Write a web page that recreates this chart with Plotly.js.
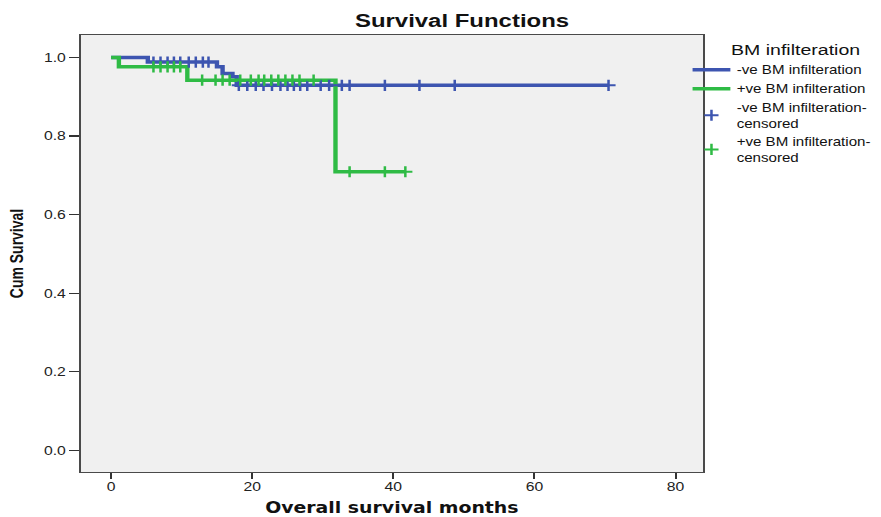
<!DOCTYPE html>
<html>
<head>
<meta charset="utf-8">
<script src="https://cdn.plot.ly/plotly-3.0.1.min.js"></script>
<style>
html,body{margin:0;padding:0;background:#fff;overflow:hidden;width:881px;height:517px;}
#chart{width:699px;height:517px;transform:scaleX(1.26);transform-origin:0 0;}
</style>
</head>
<body>
<div id="chart"></div>
<script>
// Kaplan-Meier step curves (months, cumulative survival)
const negTimes = [0, 5.2, 15.0, 15.8, 17.2, 17.8, 70.5];
const negSurv  = [1.0, 0.988, 0.976, 0.959, 0.951, 0.929, 0.929];
const posTimes = [0, 1.1, 10.8, 31.8, 41.7];
const posSurv  = [1.0, 0.976, 0.942, 0.709, 0.709];

// censored observations
const negCensTimes = [6.0, 7.0, 8.0, 8.9, 9.8, 11.0, 12.0, 13.0, 13.8,
  18.1, 19.3, 20.5, 21.6, 22.8, 24.0, 25.0, 25.9, 26.8, 27.8, 29.7, 30.9, 32.7, 33.8, 38.8, 43.7, 48.7, 70.5];
const negCensSurv  = [0.988, 0.988, 0.988, 0.988, 0.988, 0.988, 0.988, 0.988, 0.988,
  0.929, 0.929, 0.929, 0.929, 0.929, 0.929, 0.929, 0.929, 0.929, 0.929, 0.929, 0.929, 0.929, 0.929, 0.929, 0.929, 0.929, 0.929];
const posCensTimes = [6.0, 7.0, 8.0, 8.9, 9.8,
  12.9, 14.8, 15.8, 16.8, 18.3, 19.8, 20.9, 21.7, 22.7, 23.7, 24.7, 25.7, 26.7, 28.7,
  33.8, 38.8, 41.7];
const posCensSurv  = [0.976, 0.976, 0.976, 0.976, 0.976,
  0.942, 0.942, 0.942, 0.942, 0.942, 0.942, 0.942, 0.942, 0.942, 0.942, 0.942, 0.942, 0.942, 0.942,
  0.709, 0.709, 0.709];

const groupNames = ["-ve BM infilteration", "+ve BM infilteration",
  "-ve BM infilteration-<br>censored", "+ve BM infilteration-<br>censored"];
const legendTitle = "BM infilteration";
const xTicks = [0, 20, 40, 60, 80];
const yTicks = [0.0, 0.2, 0.4, 0.6, 0.8, 1.0];

const BLUE = "#3d55b0", GREEN = "#2fbb45";
const SANS = "Liberation Sans, Arial, sans-serif";

const traces = [
  {x: negTimes, y: negSurv, mode: "lines", line: {shape: "hv", color: BLUE, width: 3.5}, name: groupNames[0]},
  {x: posTimes, y: posSurv, mode: "lines", line: {shape: "hv", color: GREEN, width: 3.5}, name: groupNames[1]},
  {x: negCensTimes, y: negCensSurv, mode: "markers", name: groupNames[2],
   marker: {symbol: "cross-thin-open", size: 8, color: BLUE, line: {color: BLUE, width: 2}}},
  {x: posCensTimes, y: posCensSurv, mode: "markers", name: groupNames[3],
   marker: {symbol: "cross-thin-open", size: 8, color: GREEN, line: {color: GREEN, width: 2}}}
];

const layout = {
  width: 699, height: 517,
  margin: {l: 63.5, r: 141, t: 35, b: 45, autoexpand: false},
  paper_bgcolor: "#ffffff",
  plot_bgcolor: "#f0f0f0",
  title: {text: "Survival Functions", x: 0.5246, xref: "container", xanchor: "center",
          y: 0.961, yanchor: "middle",
          font: {family: SANS, size: 19, color: "#111", weight: "bold"}},
  xaxis: {
    range: [-4.32, 83.9], tickvals: xTicks, ticktext: xTicks.map(String),
    showgrid: false, zeroline: false, showline: true, mirror: true, linecolor: "#4a4a4a", linewidth: 1.3,
    ticks: "outside", ticklen: 6, tickcolor: "#333", tickwidth: 1.6, ticklabelstandoff: -3,
    tickfont: {family: SANS, size: 12.5, color: "#222"},
    automargin: true,
    title: {text: "Overall survival months", standoff: 20,
            font: {family: "DejaVu Sans, sans-serif", size: 15, color: "#111", weight: "bold"}}
  },
  yaxis: {
    range: [-0.055, 1.057], tickvals: yTicks, ticktext: yTicks.map(v => v.toFixed(1)),
    showgrid: false, zeroline: false, showline: true, mirror: true, linecolor: "#4a4a4a", linewidth: 1.3,
    ticks: "outside", ticklen: 8, tickcolor: "#333", tickwidth: 1.3,
    tickfont: {family: SANS, size: 12.5, color: "#222"},
    title: {text: "Cum Survival", standoff: 12,
            font: {family: SANS, size: 14, color: "#111", weight: "bold"}}
  },
  showlegend: true,
  legend: {
    x: 0.973, xanchor: "left", y: 1.0, yanchor: "top",
    bgcolor: "rgba(0,0,0,0)", tracegroupgap: 0, itemwidth: 30,
    font: {family: SANS, size: 12, color: "#111"},
    title: {text: "\u00a0\u00a0\u00a0\u00a0\u00a0" + legendTitle, side: "top center",
            font: {family: SANS, size: 15.5, color: "#111"}}
  }
};

Plotly.newPlot("chart", traces, layout, {displayModeBar: false, staticPlot: true});
</script>
</body>
</html>
